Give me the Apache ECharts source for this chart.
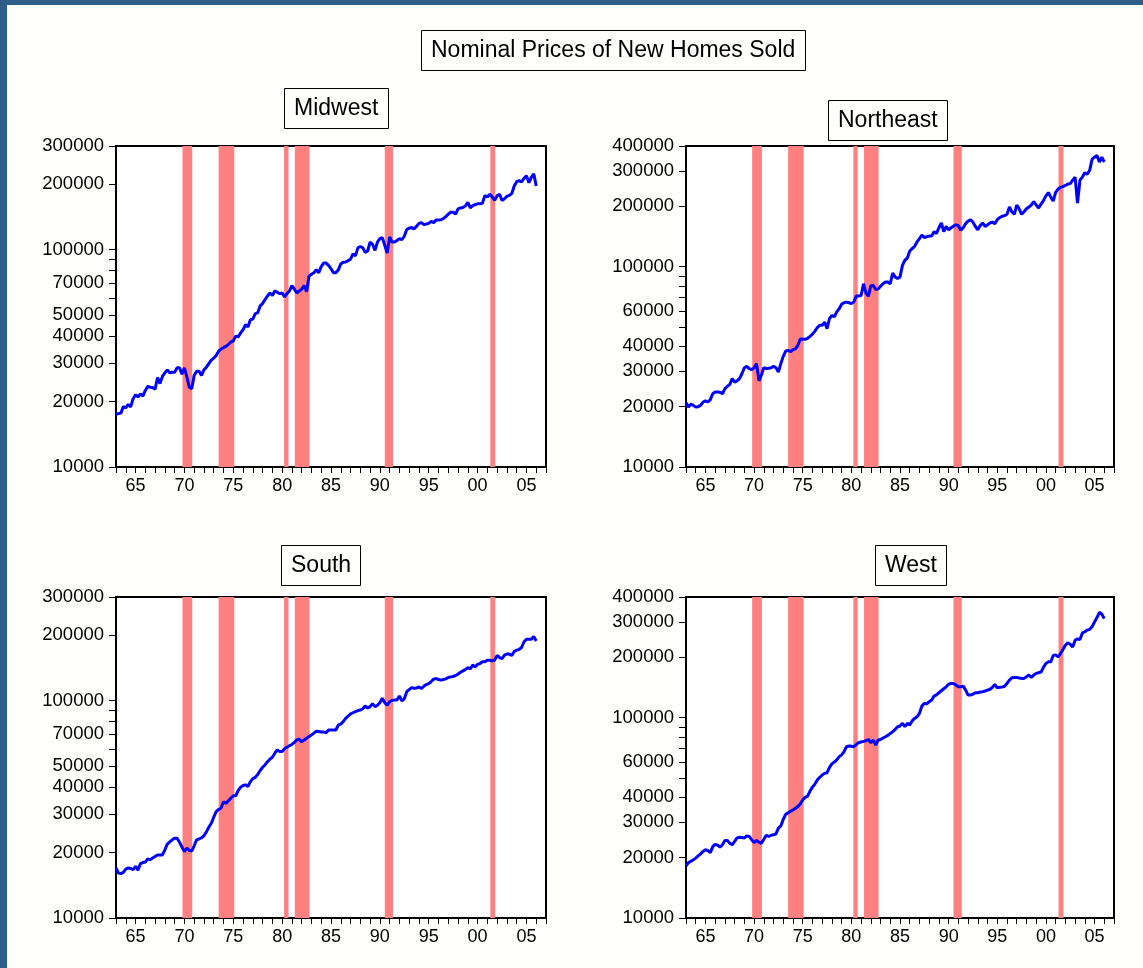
<!DOCTYPE html>
<html>
<head>
<meta charset="utf-8">
<script src="https://cdn.jsdelivr.net/npm/echarts@6/dist/echarts.min.js"></script>
<style>
  html, body { margin: 0; padding: 0; background: #fefefa; }
  #chart { width: 1143px; height: 968px; }
</style>
</head>
<body>
<div id="chart"></div>
<script>
// Quarterly observations, 1963Q1 onwards
const startYear = 1963;
const periodsPerYear = 4;

const midwest = [
  17500,17600,17700,19000, 18700,19400,18900,20600, 21500,21000,21700,21200, 22500,23500,23300,23200,
  22800,25800,24200,26100, 27100,28000,27100,27300, 27300,28600,28600,26700, 28600,26000,23300,22900,
  26400,27600,27600,26400, 28000,28800,29900,31000, 31700,32600,34100,34900, 35400,35900,36700,37600,
  38000,40000,39700,41400, 42800,45200,44100,47600, 47900,50800,51200,55100, 56500,58900,61200,63200,
  61600,64600,63700,62800, 63200,60600,62800,64600, 68300,65800,63200,64600, 65800,68300,64100,75500,
  77100,78300,80800,78300, 83600,86800,86800,84700, 81700,78300,78300,80800, 86000,87500,87800,89100,
  90400,95700,93600,102000, 103500,102000,97200,98600, 108400,105900,99300,108400, 112400,113600,104800,96400,
  114400,108400,108400,110200, 112400,111100,115300,123900, 125600,126400,124700,128200, 132100,133200,130400,131200,
  132100,134900,133200,136800, 136800,137300,139200,141900, 145700,148600,148600,145700, 154200,155700,156400,158900,
  165000,155700,159500,161300, 162500,162500,163700,177800, 174600,179900,174600,168500, 177300,179900,168500,171600,
  175900,177800,181200,196300, 205600,207900,204800,213100, 218700,203300,215400,223300, 196300
];

const northeast = [
  20900,19900,20600,20300, 19900,20000,20300,21100, 21400,21100,21700,23200, 23700,23700,23600,23200,
  24600,25300,25800,27600, 26500,26900,27600,29200, 31300,31800,31000,30600, 31300,32800,26900,28700,
  31300,31000,31100,31300, 31800,31300,29800,32800, 35700,37900,38200,37600, 38500,38900,40500,43500,
  43400,43400,43900,44900, 46000,47700,49600,51000, 51000,52900,49000,55100, 57000,56200,59500,61700,
  64900,66100,66500,66000, 65400,66600,71400,71400, 71700,82200,73800,71100, 80300,80600,76800,77400,
  79800,82200,83700,83700, 82200,92800,88800,87200, 88800,101500,107600,110200, 119700,123000,126300,132800,
  138000,143500,139700,140900, 142000,142000,149400,146500, 156300,165200,149400,158600, 152700,156300,159200,161600,
  160500,152000,156300,164000, 168800,171500,166800,158600, 152700,160500,165200,158600, 161600,165200,166800,163900,
  171500,175700,178300,179700, 182500,198400,187900,182500, 202800,194400,182500,187900, 194400,198400,202800,210900,
  203500,196000,205100,213600, 225600,234300,222200,212500, 235000,243900,248500,250800, 254200,258100,259800,270100,
  279800,207500,270100,279800, 294000,289000,302500,344000, 352000,358000,333000,352000, 333000
];

const south = [
  17000,16100,16000,16200, 16800,17000,16900,16700, 17300,16600,17800,18000, 18100,18700,18500,18900,
  19200,19500,19500,19500, 20600,21900,22400,22900, 23300,23300,22300,21200, 20200,21000,20500,20300,
  21500,22900,23100,23400, 23900,24900,26200,27300, 29100,30900,31600,32100, 34300,33700,34600,35600,
  36500,36500,38600,40000, 40700,41000,40300,42400, 43800,44400,45700,47700, 49400,50600,52400,53800,
  54900,57300,59400,58300, 58300,60200,61100,62000, 62900,64300,66000,66500, 64600,66000,67200,68400,
  69600,70900,72300,72100, 71800,71800,71300,73300, 73300,73300,73300,77300, 78000,80100,82900,85000,
  86900,88000,89000,90000, 90600,91800,94500,92500, 93900,96800,93900,95300, 97900,102500,97900,95300,
  98900,100300,100700,100700, 105100,99900,102000,110000, 112500,114900,114100,114500, 115600,113700,116500,118600,
  119800,122500,125600,126400, 125200,124300,125200,126000, 127800,128700,129200,130600, 132400,135200,137100,139000,
  142000,140000,146000,143000, 147000,148200,150900,150900, 153600,153600,152500,153600, 161500,158000,156300,162000,
  163800,163800,161500,168400, 170800,172100,175700,186700, 191500,191500,191500,197200, 188400
];

const west = [
  18200,18900,19200,19500, 19900,20400,20900,21500, 21900,21700,21200,22700, 23300,23100,22600,23200,
  24400,24400,23600,23200, 24100,25100,25300,25200, 25100,25700,25500,24600, 23800,24400,23900,23600,
  24700,25900,25500,25900, 26000,26300,28100,28800, 31100,32900,33500,34100, 34600,35300,36000,37100,
  38800,40000,40600,43000, 45000,46600,48900,50400, 51700,52700,53100,56500, 58800,60000,61600,63900,
  65200,67600,71600,72200, 71900,71600,73300,75000, 75600,76100,76700,77800, 75000,77300,73000,77300,
  77800,79100,80300,81600, 83400,85000,87300,90000, 90800,93600,90100,93600, 92000,96300,99100,101000,
  105000,114200,117800,117200, 120000,122300,128100,130000, 133100,136200,139400,142500, 146900,148100,148100,145400,
  142500,142500,143600,137200, 129600,129600,131000,133100, 133100,134200,134800,135800, 137200,138600,141700,146400,
  140800,141700,142200,143300, 148100,153900,158200,158800, 158800,157600,157000,157000, 160000,163100,158800,163100,
  166300,167600,168800,178400, 186200,189800,189800,204200, 205800,201000,208900,218800, 229800,236400,232600,225100,
  243500,247300,245400,264800, 268100,273500,275700,284800, 300400,315900,335600,328000, 312000
];

// Recession periods (fractional years)
const recessionStart = [1969.8, 1973.5, 1980.2, 1981.3, 1990.5, 2001.3];
const recessionEnd   = [1970.8, 1975.1, 1980.65, 1982.8, 1991.35, 2001.8];

// Axis ticks and labels
const xLabelYears = [1965, 1970, 1975, 1980, 1985, 1990, 1995, 2000, 2005];
const xTickYears = [1963,1964,1965,1966,1967,1968,1969,1970,1971,1972,1973,1974,1975,1976,1977,1978,1979,
  1980,1981,1982,1983,1984,1985,1986,1987,1988,1989,1990,1991,1992,1993,1994,1995,1996,1997,1998,1999,
  2000,2001,2002,2003,2004,2005,2006,2007];
const yLabelsA = [10000, 20000, 30000, 40000, 50000, 70000, 100000, 200000, 300000];
const yUnlabelledA = [60000, 80000, 90000];
const yLabelsB = [10000, 20000, 30000, 40000, 60000, 100000, 200000, 300000, 400000];
const yUnlabelledB = [50000, 70000, 80000, 90000];

const mainTitle = 'Nominal Prices of New Homes Sold';

const panels = [
  { name: 'Midwest',   values: midwest,   yMax: 300000, labels: yLabelsA, extra: yUnlabelledA,
    grid: { left: 116, top: 146, width: 430, height: 321 }, titlePos: { left: 284, top: 88 } },
  { name: 'Northeast', values: northeast, yMax: 400000, labels: yLabelsB, extra: yUnlabelledB,
    grid: { left: 686, top: 146, width: 428, height: 321 }, titlePos: { left: 828, top: 100 } },
  { name: 'South',     values: south,     yMax: 300000, labels: yLabelsA, extra: yUnlabelledA,
    grid: { left: 116, top: 597, width: 430, height: 321 }, titlePos: { left: 281, top: 545 } },
  { name: 'West',      values: west,      yMax: 400000, labels: yLabelsB, extra: yUnlabelledB,
    grid: { left: 686, top: 597, width: 428, height: 321 }, titlePos: { left: 875, top: 545 } }
];

const FONT = '"Liberation Sans", Arial, Helvetica, sans-serif';

const bands = recessionStart.map((s, i) => [{ xAxis: s }, { xAxis: recessionEnd[i] }]);

const titles = [{
  text: mainTitle, left: 421, top: 30,
  padding: [9, 10], borderColor: '#000', borderWidth: 1,
  textStyle: { fontFamily: FONT, fontSize: 23, fontWeight: 'normal', color: '#000', lineHeight: 23 }
}];
const grids = [], xAxes = [], yAxes = [], series = [];

panels.forEach((p, i) => {
  titles.push({
    text: p.name, left: p.titlePos.left, top: p.titlePos.top,
    padding: [9, 10], borderColor: '#000', borderWidth: 1,
    textStyle: { fontFamily: FONT, fontSize: 23, fontWeight: 'normal', color: '#000', lineHeight: 23 }
  });
  grids.push(Object.assign({
    show: true, backgroundColor: '#ffffff', borderColor: '#000', borderWidth: 2,
    containLabel: false, outerBoundsMode: 'none'
  }, p.grid));
  xAxes.push({
    gridIndex: i, type: 'value', min: 1963, max: 2007,
    axisLine: { show: false },
    splitLine: { show: false },
    axisTick: { show: true, inside: false, length: 6, customValues: xTickYears,
      lineStyle: { color: '#000', width: 1 } },
    axisLabel: { customValues: xLabelYears, margin: 10, color: '#000',
      fontFamily: FONT, fontSize: 18,
      formatter: v => String(Math.round(v) % 100).padStart(2, '0') }
  });
  yAxes.push({
    gridIndex: i, type: 'log', logBase: 10, min: 10000, max: p.yMax,
    axisLine: { show: false },
    splitLine: { show: false },
    axisTick: { show: true, inside: false, length: 7,
      customValues: p.labels.concat(p.extra).sort((a, b) => a - b),
      lineStyle: { color: '#000', width: 1 } },
    axisLabel: { customValues: p.labels, margin: 12, color: '#000',
      fontFamily: FONT, fontSize: 18.5,
      formatter: v => String(Math.round(v)) }
  });
  series.push({
    type: 'line', xAxisIndex: i, yAxisIndex: i,
    data: p.values.map((v, k) => [startYear + k / periodsPerYear, v]),
    showSymbol: false, symbol: 'none', animation: false,
    lineStyle: { color: '#0000ff', width: 3 },
    z: 3,
    markArea: {
      silent: true, z: 1,
      itemStyle: { color: '#ff8080', opacity: 1 },
      data: bands
    }
  });
});

const chart = echarts.init(document.getElementById('chart'), null, { renderer: 'canvas' });
chart.setOption({
  backgroundColor: '#fefefa',
  animation: false,
  title: titles,
  grid: grids,
  xAxis: xAxes,
  yAxis: yAxes,
  series: series,
  graphic: [
    { type: 'rect', left: 0, top: 0, shape: { width: 1143, height: 5 }, style: { fill: '#305e8a' }, z: 100 },
    { type: 'rect', left: 0, top: 0, shape: { width: 7, height: 968 }, style: { fill: '#305e8a' }, z: 100 }
  ]
});
</script>
</body>
</html>
